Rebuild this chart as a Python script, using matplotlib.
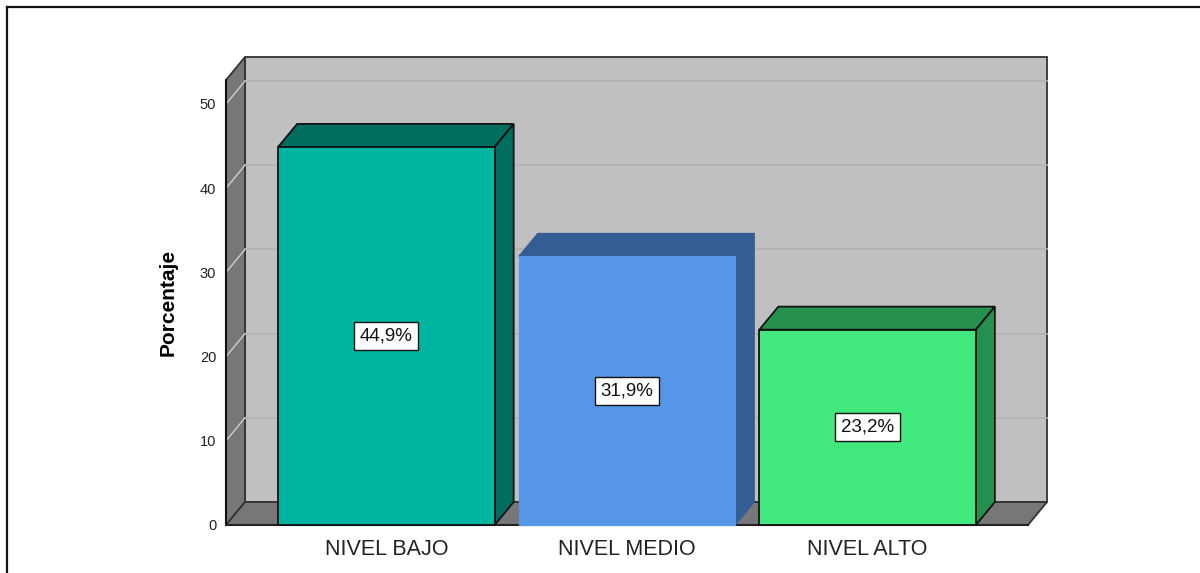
import matplotlib
matplotlib.use('Agg')
import matplotlib.pyplot as plt
from matplotlib.patches import Polygon
from matplotlib.lines import Line2D

# ---- data ----
categories = ['NIVEL BAJO', 'NIVEL MEDIO', 'NIVEL ALTO']
values = [44.9, 31.9, 23.2]
value_labels = ['44,9%', '31,9%', '23,2%']
yticks = [0, 10, 20, 30, 40, 50]
ylabel = 'Porcentaje'

# ---- style ----
front_colors = ['#00b5a0', '#5596e6', '#41e87e']
shade_colors = ['#006e5e', '#345d93', '#26914e']
edge_colors = ['#111111', None, '#111111']
plt.rcParams['font.family'] = ['Liberation Sans', 'DejaVu Sans']

W, H, DPI = 1200, 573, 100
fig = plt.figure(figsize=(W / DPI, H / DPI), dpi=DPI)
fig.patch.set_facecolor('white')

ax_left, ax_bottom, ax_w, ax_h = 226, 48, 802, 445
ax = fig.add_axes([ax_left / W, ax_bottom / H, ax_w / W, ax_h / H])
XMIN, XMAX = -2 / 3, 8 / 3
YMAX = 52.85
ax.set_xlim(XMIN, XMAX)
ax.set_ylim(0, YMAX)
ax.patch.set_visible(False)
for s in ax.spines.values():
    s.set_visible(False)

# depth offset (pixels -> data units)
px_x = ax_w / (XMAX - XMIN)
px_y = ax_h / YMAX
DX = 19 / px_x
DY = 23 / px_y

wall_col = '#777777'
back_col = '#c0c0c0'
line_col = '#333333'

# back wall
ax.add_patch(Polygon([(XMIN + DX, DY), (XMAX + DX, DY), (XMAX + DX, YMAX + DY),
                      (XMIN + DX, YMAX + DY)], closed=True, facecolor=back_col,
                     edgecolor=line_col, lw=1.3, clip_on=False, zorder=1))
# left wall
ax.add_patch(Polygon([(XMIN, 0), (XMIN + DX, DY), (XMIN + DX, YMAX + DY), (XMIN, YMAX)],
                     closed=True, facecolor=wall_col, edgecolor=line_col, lw=1.3,
                     clip_on=False, zorder=1))
# gridlines
for v in yticks[1:]:
    ax.add_line(Line2D([XMIN + DX, XMAX + DX], [v + DY, v + DY], color='#b2b2b2',
                       lw=1.2, clip_on=False, zorder=1.5))
    ax.add_line(Line2D([XMIN, XMIN + DX], [v, v + DY], color='#cfcfcf',
                       lw=1.0, clip_on=False, zorder=1.5))
# floor
ax.add_patch(Polygon([(XMIN, 0), (XMAX, 0), (XMAX + DX, DY), (XMIN + DX, DY)],
                     closed=True, facecolor=wall_col, edgecolor=line_col, lw=1.3,
                     clip_on=False, zorder=2))
# front axis line
ax.add_line(Line2D([XMIN, XMIN], [0, YMAX], color='#111111', lw=1.5,
                   clip_on=False, zorder=2.5))
ax.add_line(Line2D([XMIN, XMAX], [0, 0], color='#222222', lw=1.5,
                   clip_on=False, zorder=2.5))

# bars
bw = 0.9
for i, (v, fc, sc, ec) in enumerate(zip(values, front_colors, shade_colors, edge_colors)):
    x0, x1 = i - bw / 2, i + bw / 2
    e = ec if ec else sc
    lw = 1.3 if ec else 0.8
    # top
    ax.add_patch(Polygon([(x0, v), (x1, v), (x1 + DX, v + DY), (x0 + DX, v + DY)],
                         closed=True, facecolor=sc, edgecolor=e, lw=lw,
                         clip_on=False, zorder=3))
    # side
    ax.add_patch(Polygon([(x1, 0), (x1 + DX, DY), (x1 + DX, v + DY), (x1, v)],
                         closed=True, facecolor=sc, edgecolor=e, lw=lw,
                         clip_on=False, zorder=3))
    # front
    ax.add_patch(Polygon([(x0, 0), (x1, 0), (x1, v), (x0, v)],
                         closed=True, facecolor=fc, edgecolor=(ec if ec else fc), lw=lw,
                         clip_on=False, zorder=4))
    ax.text(i, v / 2, value_labels[i], ha='center', va='center', fontsize=13.5,
            color='#111111', zorder=6,
            bbox=dict(boxstyle='square,pad=0.3', facecolor='white',
                      edgecolor='#111111', lw=1.0))

# ticks
ax.set_yticks(yticks)
ax.set_yticklabels([str(t) for t in yticks], fontsize=10.5, color='#222222')
ax.set_xticks(range(len(categories)))
ax.set_xticklabels(categories, fontsize=15.5, color='#222222')
ax.tick_params(axis='y', length=0, pad=7)
ax.tick_params(axis='x', length=0, pad=10)
ax.set_ylabel(ylabel, fontsize=15, fontweight='bold', labelpad=16)

# outer frame (top and left)
fig.add_artist(Line2D([7 / W, 7 / W], [(H - 7) / H, 0], transform=fig.transFigure,
                      color='#111111', lw=1.6))
fig.add_artist(Line2D([7 / W, 1], [(H - 7) / H, (H - 7) / H], transform=fig.transFigure,
                      color='#111111', lw=1.6))

fig.savefig('out.png', dpi=DPI)
